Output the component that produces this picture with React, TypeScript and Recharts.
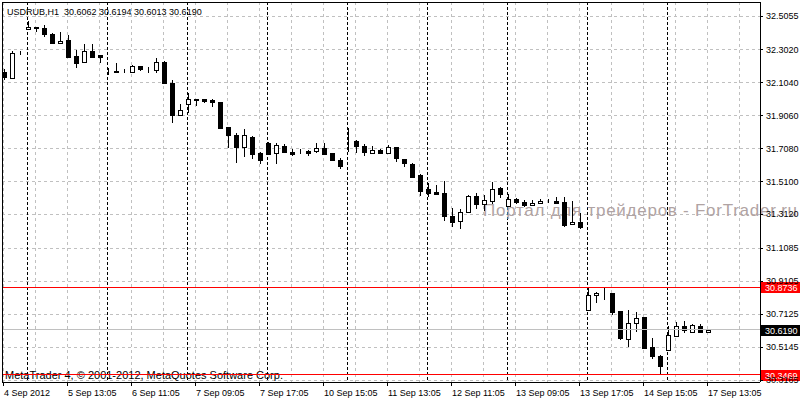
import React from "react";
import { ComposedChart, Bar, XAxis, YAxis, CartesianGrid, ReferenceLine } from "recharts";

const SYMBOL = "USDRUB,H1";
const FONT = "'Liberation Sans', Arial, sans-serif";

// hourly bars, oldest first
const OPEN = [
  32.1687, 32.1284, 32.2848, 32.4231, 32.4375, 32.4315, 32.3972, 32.3413, 32.3612, 32.2649,
  32.2271, 32.295, 32.2691, 32.1747, 32.1747, 32.1747, 32.1705, 32.2048, 32.1807, 32.1807,
  32.2289, 32.1008, 31.9083, 31.9745, 32.0063, 32.0063, 32.0021, 31.9883, 31.838, 31.7899,
  31.7195, 31.7778, 31.6816, 31.7417, 31.6774, 31.7237, 31.6876, 31.6858, 31.6954, 31.6894,
  31.7117, 31.6816, 31.6395, 31.752, 31.752, 31.7237, 31.6834, 31.6997, 31.6798, 31.7177,
  31.6437, 31.6155, 31.5475, 31.4651, 31.4453, 31.4393, 31.3027, 31.2709, 31.3226, 31.423,
  31.3731, 31.3971, 31.4693, 31.3587, 31.405, 31.3851, 31.3647, 31.3791, 31.3887, 31.3929,
  31.3851, 31.2528, 31.2648, 30.7332, 30.8259, 30.8379, 30.8397, 30.7314, 30.5649, 30.6551,
  30.6935, 30.5131, 30.459, 30.4926, 30.5768, 30.6395, 30.601, 30.6413, 30.6062,
];
const HIGH = [
  32.1868, 32.295, 32.2968, 32.4772, 32.4393, 32.4496, 32.4051, 32.4093, 32.3894, 32.301,
  32.3371, 32.3353, 32.2709, 32.191, 32.2246, 32.1868, 32.2108, 32.2066, 32.197, 32.2511,
  32.2319, 32.1206, 31.9763, 32.0406, 32.0081, 32.0075, 32.0081, 31.9895, 31.8392, 31.8037,
  31.8277, 31.7838, 31.6894, 31.7496, 31.7399, 31.7357, 31.7075, 31.7075, 31.7014, 31.7399,
  31.7399, 31.6828, 31.6497, 31.8301, 31.7598, 31.7357, 31.7237, 31.7057, 31.7279, 31.7189,
  31.6473, 31.6233, 31.5553, 31.4994, 31.4874, 31.515, 31.3527, 31.343, 31.429, 31.4393,
  31.429, 31.5054, 31.4789, 31.4332, 31.4092, 31.399, 31.399, 31.4068, 31.405, 31.4152,
  31.4188, 31.3929, 31.319, 30.868, 30.8457, 30.868, 30.8427, 30.7326, 30.7374, 30.7254,
  30.6971, 30.5691, 30.4687, 30.6411, 30.6653, 30.6713, 30.6515, 30.6551, 30.6194,
];
const LOW = [
  32.1206, 32.1266, 32.2691, 32.4213, 32.4075, 32.3774, 32.3371, 32.3401, 32.2571, 32.1946,
  32.2258, 32.2547, 32.2246, 32.1507, 32.1669, 32.1609, 32.1645, 32.1765, 32.1609, 32.1609,
  32.1026, 31.8638, 31.9065, 31.924, 31.9643, 31.9805, 31.96, 31.8259, 31.7099, 31.6233,
  31.6557, 31.6437, 31.6155, 31.6738, 31.6173, 31.6876, 31.6636, 31.6756, 31.6654, 31.6834,
  31.6696, 31.6353, 31.5872, 31.6894, 31.6834, 31.6636, 31.6756, 31.6738, 31.6786, 31.6293,
  31.5992, 31.5355, 31.423, 31.4152, 31.429, 31.2745, 31.2384, 31.2264, 31.319, 31.343,
  31.3346, 31.3749, 31.4128, 31.3569, 31.3731, 31.3587, 31.3635, 31.3779, 31.3791, 31.3731,
  31.2384, 31.2516, 31.2264, 30.7314, 30.7814, 30.7976, 30.7074, 30.5571, 30.5168, 30.607,
  30.5059, 30.441, 30.348, 30.4908, 30.5751, 30.601, 30.5992, 30.6052, 30.6013,
];
const CLOSE = [
  32.1387, 32.2812, 32.286, 32.4375, 32.4315, 32.393, 32.3449, 32.3551, 32.2607, 32.2246,
  32.295, 32.2607, 32.2571, 32.1755, 32.1687, 32.174, 32.2048, 32.185, 32.1815, 32.2307,
  32.1044, 31.9083, 31.9402, 32.0045, 32.0003, 31.9925, 31.9883, 31.8338, 31.7917, 31.7195,
  31.7899, 31.6756, 31.6395, 31.6756, 31.7279, 31.6894, 31.6774, 31.6864, 31.6834, 31.7099,
  31.6774, 31.6413, 31.6052, 31.7496, 31.7195, 31.6858, 31.6997, 31.6834, 31.7177, 31.6497,
  31.6197, 31.5391, 31.4489, 31.4429, 31.435, 31.2985, 31.2685, 31.325, 31.4212, 31.3731,
  31.3971, 31.4669, 31.4332, 31.4032, 31.3851, 31.3647, 31.3791, 31.3929, 31.3893, 31.3827,
  31.2486, 31.2648, 31.2324, 30.8259, 30.8397, 30.8385, 30.7272, 30.5691, 30.6593, 30.6875,
  30.5089, 30.4566, 30.3965, 30.5852, 30.6395, 30.613, 30.6455, 30.607, 30.619,
];

// empty bars kept on the right (chart shift)
const SHIFT_BARS = 6;

const TIME_TICKS = [0, 8, 16, 24, 32, 40, 48, 56, 64, 72, 80, 88];
const TIME_LABELS = [
  "4 Sep 2012", "5 Sep 13:05", "6 Sep 11:05", "7 Sep 09:05", "7 Sep 17:05", "10 Sep 15:05",
  "11 Sep 13:05", "12 Sep 11:05", "13 Sep 09:05", "13 Sep 17:05", "14 Sep 15:05", "17 Sep 13:05",
];
const DAY_STARTS = [3, 13, 23, 33, 43, 53, 63, 73, 83];
const GRID_BARS = Array.from({ length: 24 }, (_, k) => k * 4);

const PRICE_TICKS = [
  32.5055, 32.302, 32.104, 31.906, 31.708, 31.51, 31.312, 31.1085, 30.9105, 30.7125, 30.5145, 30.3165,
];
const PRICE_DOMAIN = [30.3045, 32.5897];
const LEVELS = [30.8736, 30.3469];

const data = Array.from({ length: OPEN.length + SHIFT_BARS }, (_, i) =>
  i < OPEN.length
    ? { i, o: OPEN[i], h: HIGH[i], l: LOW[i], c: CLOSE[i], range: [LOW[i], HIGH[i]] }
    : { i, range: null }
);

const last = OPEN.length - 1;
const fmt = (v: number) => v.toFixed(4);

function Candle(props: any) {
  const { x, y, width, height, payload } = props;
  if (!payload || payload.o == null) return null;
  const { o, h, l, c } = payload;
  const cx = Math.round(x + width / 2);
  const top = Math.min(y, y + height);
  const span = Math.abs(height);
  const py = (v: number) => (h === l ? top : top + ((h - v) / (h - l)) * span);
  const yo = py(o);
  const yc = py(c);
  const bodyTop = Math.round(Math.min(yo, yc));
  const bodyH = Math.round(Math.abs(yc - yo));
  return (
    <g>
      <line x1={cx} x2={cx} y1={Math.round(top)} y2={Math.round(top + span)} stroke="#000" />
      <rect x={cx - 2} y={bodyTop} width={4} height={bodyH} fill={c >= o ? "#fff" : "#000"} stroke="#000" />
    </g>
  );
}

const TimeTick = (props: any) => {
  const k = TIME_TICKS.indexOf(props.payload.value);
  return (
    <text x={props.x + 1} y={props.y + 8} fontSize={9} fontFamily={FONT} fill="#000" textAnchor="start">
      {TIME_LABELS[k]}
    </text>
  );
};

const PriceTick = (props: any) => (
  <text x={props.x} y={props.y + 3} fontSize={9} fontFamily={FONT} fill="#000" textAnchor="start">
    {fmt(props.payload.value)}
  </text>
);

// price tag sitting on the right axis
const tag = (value: number, bg: string) => (props: any) => {
  const vb = props.viewBox;
  const ly = Math.round(vb.y);
  const bx = vb.x + vb.width + 1;
  return (
    <g>
      <rect x={bx} y={ly - 5} width={39} height={11} fill={bg} />
      <text x={bx + 4} y={ly + 4} fontSize={9} fontFamily={FONT} fill="#fff">
        {fmt(value)}
      </text>
    </g>
  );
};

export default function App() {
  return (
    <div style={{ position: "absolute", left: 0, top: 0, width: 800, height: 400, background: "#fff" }}>
      <style>{"svg line, svg rect, svg path { shape-rendering: crispEdges; }"}</style>
      <ComposedChart width={800} height={400} data={data} margin={{ top: 0, right: 0, bottom: 0, left: 0 }}>
        <XAxis
          dataKey="i"
          type="category"
          padding={{ left: -3, right: 1 }}
          ticks={TIME_TICKS}
          interval={0}
          height={18}
          tickSize={4}
          tickMargin={2}
          tick={<TimeTick />}
          tickLine={{ stroke: "#000" }}
          axisLine={{ stroke: "#000" }}
        />
        <XAxis
          xAxisId="top"
          dataKey="i"
          orientation="top"
          height={2}
          padding={{ left: -3, right: 1 }}
          tick={false}
          tickLine={false}
          axisLine={{ stroke: "#000" }}
        />
        <XAxis xAxisId="grid" dataKey="i" hide padding={{ left: -3, right: 1 }} ticks={GRID_BARS} interval={0} />
        <XAxis xAxisId="days" dataKey="i" hide padding={{ left: -3, right: 1 }} ticks={DAY_STARTS} interval={0} />
        <YAxis
          orientation="right"
          width={40}
          domain={PRICE_DOMAIN}
          allowDataOverflow
          ticks={PRICE_TICKS}
          interval={0}
          tickSize={3}
          tickMargin={3}
          tick={<PriceTick />}
          tickLine={{ stroke: "#000" }}
          axisLine={{ stroke: "#000" }}
        />
        <YAxis
          yAxisId="left"
          orientation="left"
          width={2}
          domain={PRICE_DOMAIN}
          tick={false}
          tickLine={false}
          axisLine={{ stroke: "#000" }}
        />
        <CartesianGrid vertical={false} stroke="#c0c0c0" strokeDasharray="3 3" />
        <CartesianGrid xAxisId="grid" horizontal={false} stroke="#c0c0c0" strokeDasharray="3 3" />
        <CartesianGrid xAxisId="days" horizontal={false} stroke="#000" strokeDasharray="3 2" />
        <text x={483} y={216} fontSize={17} fontFamily={FONT} fill="#b0a3a3" textLength={314}>
          Портал для трейдеров - ForTrader.ru
        </text>
        <ReferenceLine y={CLOSE[last]} stroke="#c0c0c0" label={tag(CLOSE[last], "#000")} />
        <Bar dataKey="range" barSize={5} shape={<Candle />} isAnimationActive={false} />
        <ReferenceLine y={LEVELS[0]} stroke="#ff0000" label={tag(LEVELS[0], "#ff0000")} />
        <ReferenceLine y={LEVELS[1]} stroke="#ff0000" label={tag(LEVELS[1], "#ff0000")} />
        <text x={7} y={15} fontSize={9} fontFamily={FONT} fill="#000" style={{ whiteSpace: "pre" }}>
          {`${SYMBOL}  ${fmt(OPEN[last])} ${fmt(HIGH[last])} ${fmt(LOW[last])} ${fmt(CLOSE[last])}`}
        </text>
        <text x={5} y={379} fontSize={11} fontFamily={FONT} fill="#000">
          MetaTrader 4, © 2001-2012, MetaQuotes Software Corp.
        </text>
      </ComposedChart>
    </div>
  );
}
